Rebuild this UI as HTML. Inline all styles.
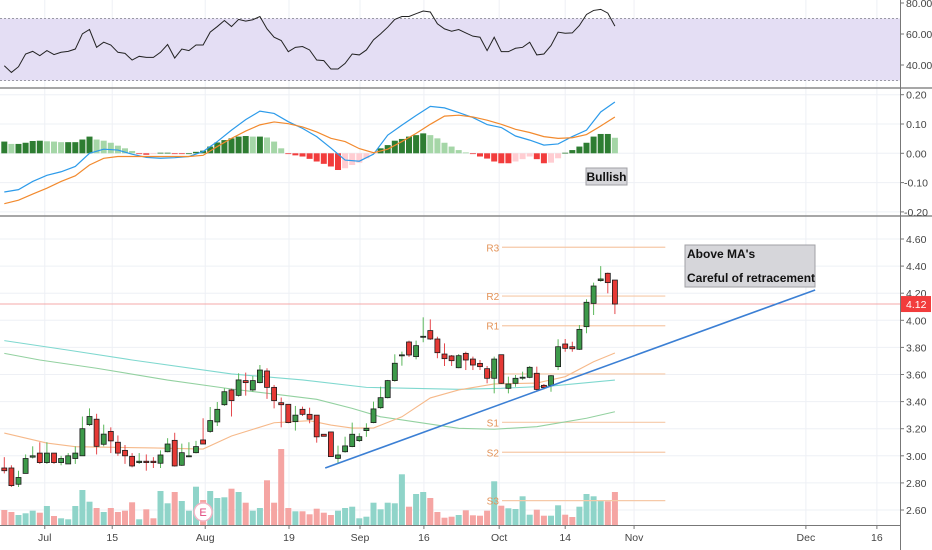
<!DOCTYPE html>
<html><head><meta charset="utf-8">
<style>
html,body{margin:0;padding:0;background:#fff;}
svg{display:block;font-family:"Liberation Sans",sans-serif;}
</style></head>
<body>
<svg id="chart" width="932" height="550" viewBox="0 0 932 550" xmlns="http://www.w3.org/2000/svg">
<g id="grid"></g>
<rect x="0" y="18.5" width="900" height="62" fill="#e4def4"/>
<line x1="0" y1="18.5" x2="900" y2="18.5" stroke="#9a9aa5" stroke-dasharray="2,2"/>
<line x1="0" y1="80.5" x2="900" y2="80.5" stroke="#9a9aa5" stroke-dasharray="2,2"/>
<g id="rsi"></g>
<g id="macd"></g>
<g id="main"></g>
<line x1="0" y1="88" x2="932" y2="88" stroke="#8a8a8a" stroke-width="1.5"/>
<line x1="0" y1="216" x2="932" y2="216" stroke="#8a8a8a" stroke-width="1.5"/>
<line x1="900.5" y1="0" x2="900.5" y2="550" stroke="#777" stroke-width="1"/>
<line x1="0" y1="525.5" x2="900" y2="525.5" stroke="#777" stroke-width="1"/>
<g id="axes" font-size="10.5" fill="#444"></g>
<g>
<rect x="586" y="168" width="41" height="17" fill="#d6d6da" stroke="#a0a0a6"/>
<text x="606.5" y="181" text-anchor="middle" font-size="12" font-weight="bold" fill="#111">Bullish</text>
</g>
<g>
<rect x="685" y="245" width="130" height="42" fill="#d6d6da" stroke="#a0a0a6"/>
<text x="687" y="258" font-size="12" font-weight="bold" fill="#111">Above MA's</text>
<text x="687" y="282" font-size="12" font-weight="bold" fill="#111">Careful of retracement</text>
</g>
</svg>
<script>
const opens=[2.91,2.91,2.79,2.87,2.99,3.02,2.95,3.02,2.95,2.94,2.98,3.00,3.23,3.27,3.085,3.18,3.10,3.04,2.996,2.95,2.96,2.96,2.945,3.03,3.114,2.93,3.00,3.023,3.117,3.18,3.25,3.377,3.486,3.446,3.555,3.486,3.54,3.626,3.505,3.392,3.38,3.252,3.343,3.306,3.30,3.159,3.176,2.981,3.03,3.068,3.112,3.186,3.245,3.355,3.429,3.555,3.74,3.84,3.732,3.878,3.924,3.862,3.751,3.737,3.65,3.756,3.714,3.682,3.643,3.572,3.746,3.498,3.535,3.578,3.579,3.609,3.52,3.52,3.658,3.825,3.805,3.786,3.953,4.125,4.293,4.347,4.297];
const highs=[2.99,2.93,2.89,3.01,3.07,3.10,3.10,3.02,3.00,3.02,3.07,3.29,3.35,3.31,3.23,3.21,3.15,3.08,3.02,3.02,3.01,2.99,3.04,3.13,3.17,3.09,3.10,3.11,3.277,3.36,3.397,3.498,3.496,3.609,3.614,3.589,3.67,3.646,3.523,3.43,3.38,3.368,3.363,3.355,3.30,3.159,3.178,3.075,3.141,3.245,3.166,3.24,3.40,3.51,3.56,3.749,3.769,3.85,3.85,4.022,4.007,3.879,3.83,3.744,3.751,3.768,3.732,3.707,3.663,3.732,3.746,3.584,3.596,3.621,3.663,3.658,3.53,3.596,3.86,3.862,3.842,3.965,4.155,4.278,4.40,4.352,4.297];
const lows=[2.87,2.77,2.77,2.87,2.98,2.94,2.94,2.94,2.93,2.94,2.94,3.00,3.22,3.01,3.07,3.02,3.00,2.94,2.915,2.94,2.89,2.91,2.91,3.026,2.92,2.925,2.99,3.018,3.087,3.17,3.22,3.368,3.29,3.437,3.444,3.473,3.535,3.42,3.35,3.21,3.24,3.186,3.294,3.24,3.097,3.144,2.994,2.945,3.023,3.063,3.102,3.14,3.24,3.346,3.424,3.547,3.665,3.73,3.712,3.838,3.855,3.72,3.663,3.663,3.646,3.633,3.633,3.633,3.535,3.461,3.53,3.461,3.51,3.559,3.572,3.481,3.49,3.473,3.633,3.768,3.768,3.781,3.904,4.039,4.285,4.199,4.046];
const closes=[2.89,2.78,2.84,2.98,3.00,2.95,3.02,2.95,2.98,3.00,3.02,3.20,3.29,3.07,3.16,3.11,3.02,3.00,2.925,2.96,2.95,2.95,3.006,3.087,2.925,3.023,3.00,3.068,3.087,3.26,3.343,3.473,3.407,3.56,3.54,3.555,3.633,3.505,3.407,3.377,3.245,3.30,3.306,3.27,3.14,3.144,2.994,3.006,3.073,3.159,3.141,3.203,3.346,3.429,3.555,3.683,3.745,3.744,3.813,3.882,3.862,3.761,3.717,3.702,3.739,3.707,3.67,3.658,3.572,3.714,3.535,3.53,3.572,3.58,3.653,3.49,3.503,3.591,3.805,3.793,3.79,3.933,4.133,4.253,4.305,4.278,4.12];
const volumes=[150,130,100,117,143,123,190,90,67,57,190,350,233,170,130,170,130,143,227,57,157,67,340,217,330,240,143,383,250,340,270,277,363,330,223,143,170,447,223,760,170,137,137,107,163,123,100,143,170,183,67,83,223,157,223,217,507,183,310,330,270,130,73,83,100,147,97,93,143,437,193,167,160,287,103,153,93,93,197,103,80,183,310,287,247,237,330];
const rsiValues=[39.5,35.2,38.9,47.1,48.8,46.0,49.3,46.7,48.2,48.8,50.3,60.1,62.9,51.4,54.7,52.9,48.2,47.5,43.2,45.6,44.9,44.9,48.2,53.2,44.5,50.3,49.3,52.9,52.9,61.2,64.8,68.7,64.8,69.4,68.3,69.2,71.3,63.3,57.9,55.8,48.6,51.4,51.9,49.7,43.2,42.8,37.4,37.4,41.0,47.1,46.5,49.7,56.2,60.1,64.4,69.4,71.3,71.3,73.1,74.8,74.2,66.6,63.3,61.8,62.9,60.7,58.6,57.9,49.3,57.9,48.6,48.6,50.8,51.4,54.7,46.5,47.1,52.5,61.2,60.5,60.7,65.5,72.6,75.2,75.9,73.5,65.1];
const histValues=[.040,.032,.032,.036,.042,.043,.041,.040,.038,.038,.038,.047,.057,.047,.043,.036,.026,.017,.008,-.002,-.005,-.002,.002,.002,-.001,-.002,.000,.005,.009,.023,.037,.045,.051,.057,.059,.057,.057,.054,.040,.017,-.002,-.007,-.011,-.019,-.028,-.036,-.045,-.057,-.051,-.040,-.032,-.017,-.002,.017,.028,.043,.049,.057,.062,.068,.062,.051,.036,.023,.011,.003,-.002,-.011,-.018,-.028,-.034,-.034,-.028,-.020,-.011,-.020,-.034,-.032,-.017,.002,.011,.023,.036,.057,.066,.066,.053];
const macdIdx=[0,2,4,6,8,10,12,14,16,18,20,22,24,26,28,30,32,34,36,38,40,42,44,46,48,50,52,54,56,58,60,62,64,66,68,70,72,74,76,78,80,82,84,86];
const macdLine=[-.132,-.124,-.096,-.075,-.063,-.045,.000,.014,.011,-.003,-.014,-.017,-.015,-.011,.006,.040,.079,.115,.144,.136,.108,.085,.057,.018,-.023,-.027,-.003,.062,.096,.129,.160,.155,.139,.122,.098,.088,.059,.045,.028,.032,.057,.079,.141,.175];
const signalLine=[-.172,-.160,-.139,-.119,-.096,-.077,-.040,-.017,-.011,-.011,-.011,-.011,-.011,-.011,-.007,.023,.051,.076,.097,.107,.101,.090,.073,.051,.040,.016,.002,.014,.040,.068,.099,.127,.130,.124,.113,.099,.082,.071,.057,.051,.053,.064,.093,.124];
const maFastIdx=[0,6,10,21,28,32,38,43,46,49,52,56,60,64,69,75,79,83,86];
const maFast=[3.168,3.094,3.067,3.058,3.05,3.146,3.244,3.259,3.227,3.205,3.205,3.288,3.427,3.486,3.53,3.537,3.584,3.694,3.759];
const maMidIdx=[0,5,13,23,32,39,44,49,53,64,69,75,82,86];
const maMid=[3.756,3.707,3.646,3.559,3.493,3.449,3.417,3.35,3.288,3.203,3.196,3.215,3.277,3.325];
const maSlowIdx=[0,9,18,32,42,51,64,70,77,86];
const maSlow=[3.85,3.78,3.707,3.604,3.56,3.505,3.491,3.498,3.515,3.559];
const pivotNames=["R3","R2","R1","P","S1","S2","S3"];
const pivotLevels=[4.539,4.179,3.96,3.604,3.247,3.026,2.669];
const trendIdx=[45.2,114.2];
const trendPrice=[2.91,4.224];
const priceTicks=[4.60,4.40,4.20,4.00,3.80,3.60,3.40,3.20,3.00,2.80,2.60];
const rsiTicks=[80,60,40];
const macdTicks=[0.20,0.10,0.00,-0.10,-0.20];
const dateLabels=["Jul","15","Aug","19","Sep","16","Oct","14","Nov","Dec","16"];
const dateIdx=[5.7,15.2,28.3,40.1,50.1,59.1,69.7,79,88.7,112.9,122.9];
const lastPrice=4.12;
const earningsIdx=28;

const NS="http://www.w3.org/2000/svg";
const X=i=>4.3+7.1*i;
const Y=p=>239+(4.60-p)*135.5;
const YV=v=>525-v/10;
const YR=v=>3+(80-v)*1.55;
const YM=m=>153.3-m*293;
function mk(parent,tag,attrs){const e=document.createElementNS(NS,tag);for(const k in attrs)e.setAttribute(k,attrs[k]);parent.appendChild(e);return e;}
const grid=document.getElementById('grid'),main=document.getElementById('main'),rsiG=document.getElementById('rsi'),macdG=document.getElementById('macd'),axes=document.getElementById('axes');

// grid
dateIdx.forEach(d=>{const l=mk(grid,'line',{x1:X(d),x2:X(d),y1:0,y2:525,stroke:'#eef0f5'});

});
priceTicks.forEach(p=>{const l=mk(grid,'line',{x1:0,x2:900,y1:Y(p),y2:Y(p),stroke:'#eef0f5'});

});
macdTicks.forEach(m=>{const l=mk(grid,'line',{x1:0,x2:900,y1:YM(m),y2:YM(m),stroke:'#eef0f5'});

});

// RSI
const rsiPts=rsiValues.map((v,i)=>X(i)+','+YR(v)).join(' ');
const rl=mk(rsiG,'polyline',{points:rsiPts,fill:'none',stroke:'#222',"stroke-width":1});



// MACD histogram
histValues.forEach((h,i)=>{
  const prev=i>0?histValues[i-1]:h;
  let col;
  if(h>=0) col=h>=prev?'#2e7d32':'#a5d6a7'; else col=h<=prev?'#f23c3c':'#ffcdd2';
  const y0=YM(0),y1=YM(h);
  const r=mk(macdG,'rect',{x:X(i)-3,y:Math.min(y0,y1),width:6,height:Math.max(0.8,Math.abs(y1-y0)),fill:col});
  
  
});
const ml=mk(macdG,'polyline',{points:macdIdx.map((d,k)=>X(d)+','+YM(macdLine[k])).join(' '),fill:'none',stroke:'#2d9bea',"stroke-width":1.2});


const sl=mk(macdG,'polyline',{points:macdIdx.map((d,k)=>X(d)+','+YM(signalLine[k])).join(' '),fill:'none',stroke:'#f28a2e',"stroke-width":1.2});



// volume
volumes.forEach((v,i)=>{
  const up=closes[i]>=opens[i];
  const r=mk(main,'rect',{x:X(i)-3,y:YV(v),width:6,height:525-YV(v),fill:up?'#8fd4c9':'#f5a5a3'});
  
  
});
// earnings marker
const eg=mk(main,'g',{});


mk(eg,'circle',{cx:X(earningsIdx),cy:512,r:9,fill:'#fff',stroke:'#f3b6c6',"stroke-width":1.5});
const et=mk(eg,'text',{x:X(earningsIdx),y:516,"text-anchor":"middle","font-size":11,fill:'#e0457b'});et.textContent='E';

// current price line
const cp=mk(main,'line',{x1:0,x2:900,y1:Y(lastPrice),y2:Y(lastPrice),stroke:'#f4a8a8',"stroke-width":1});



// pivots
pivotLevels.forEach((p,k)=>{
  const l=mk(main,'line',{x1:X(70.1),x2:X(93.1),y1:Y(p),y2:Y(p),stroke:'#f6c9a8',"stroke-width":1.2});
  
  
  const t=mk(main,'text',{x:X(68.8),y:Y(p)+4,"text-anchor":"middle","font-size":10,fill:'#e39257'});
  t.textContent=pivotNames[k];
  
  
});

// MAs
[[maSlowIdx,maSlow,'#7fd8cf','ma-slow-line'],[maMidIdx,maMid,'#93d1a0','ma-mid-line'],[maFastIdx,maFast,'#f6b98a','ma-fast-line']].forEach(([ix,vals,col,name])=>{
  const l=mk(main,'polyline',{points:ix.map((d,k)=>X(d)+','+Y(vals[k])).join(' '),fill:'none',stroke:col,"stroke-width":1.1});
  
  
});

// candles
opens.forEach((o,i)=>{
  const c=closes[i],up=c>=o;
  const g=mk(main,'g',{});
  
  
  mk(g,'line',{x1:X(i),x2:X(i),y1:Y(highs[i]),y2:Y(lows[i]),stroke:up?'#5cb85c':'#e5484d',"stroke-width":1});
  const top=Y(Math.max(o,c)),bot=Y(Math.min(o,c));
  mk(g,'rect',{x:X(i)-2.5,y:top,width:5,height:Math.max(1,bot-top),fill:up?'#3d9a4a':'#e53935',stroke:'#1c1c1c',"stroke-width":0.8});
});

// trendline
const tl=mk(main,'line',{x1:X(trendIdx[0]),y1:Y(trendPrice[0]),x2:X(trendIdx[1]),y2:Y(trendPrice[1]),stroke:'#3b7fd4',"stroke-width":1.6});



// axes
priceTicks.forEach(p=>{
  mk(axes,'line',{x1:900,x2:904,y1:Y(p),y2:Y(p),stroke:'#777'});
  const t=mk(axes,'text',{x:906,y:Y(p)+4});t.textContent=p.toFixed(2);
  
  
});
rsiTicks.forEach(v=>{
  mk(axes,'line',{x1:900,x2:904,y1:YR(v),y2:YR(v),stroke:'#777'});
  const t=mk(axes,'text',{x:906,y:YR(v)+4});t.textContent=v.toFixed(2);
  
  
});
macdTicks.forEach(m=>{
  mk(axes,'line',{x1:900,x2:904,y1:YM(m),y2:YM(m),stroke:'#777'});
  const t=mk(axes,'text',{x:904,y:YM(m)+4});t.textContent=(m<0?'':'\u2009')+m.toFixed(2);
  
  
});
dateLabels.forEach((d,k)=>{
  mk(axes,'line',{x1:X(dateIdx[k]),x2:X(dateIdx[k]),y1:525,y2:529,stroke:'#777'});
  const t=mk(axes,'text',{x:X(dateIdx[k]),y:541,"text-anchor":"middle"});t.textContent=d;
  
  
});
const lb=mk(axes,'rect',{x:901,y:Y(lastPrice)-8,width:30,height:16,fill:'#f23c3c'});


const lt=mk(axes,'text',{x:906,y:Y(lastPrice)+4,fill:'#fff'});lt.textContent=lastPrice.toFixed(2);


</script>
</body></html>
